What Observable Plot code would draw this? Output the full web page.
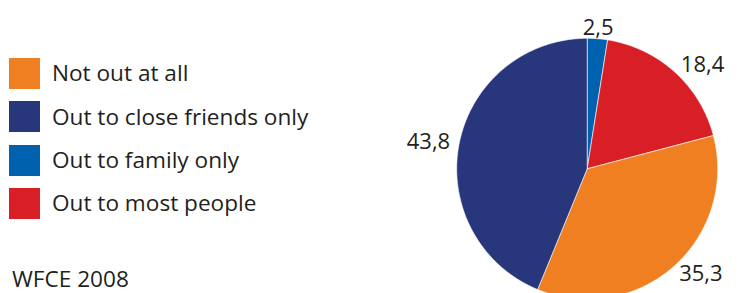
<!DOCTYPE html>
<html><head><meta charset="utf-8">
<script src="https://cdn.jsdelivr.net/npm/d3@7"></script>
<script src="https://cdn.jsdelivr.net/npm/@observablehq/plot@0.6"></script>
<style>
body{margin:0;background:#fff;}
#wrap{position:relative;width:749px;height:293px;overflow:hidden;font-family:"Open Sans",sans-serif;color:#231f20;}
#legend{position:absolute;left:9px;top:58px;}
.item{display:flex;align-items:center;height:31px;margin-bottom:12.3px;font-size:22.6px;line-height:1;}
.sw{width:31px;height:31px;margin-right:12px;flex:none;}
#src{position:absolute;left:12px;top:268px;font-size:22.6px;line-height:1;}
svg text{font-family:"Open Sans",sans-serif;}
</style></head>
<body><div id="wrap"><div id="chart"></div><div id="legend"></div><div id="src">WFCE 2008</div></div>
<script>
const legendOrder = ["Not out at all", "Out to close friends only", "Out to family only", "Out to most people"];
const sliceOrder = ["Out to family only", "Out to most people", "Not out at all", "Out to close friends only"];
const values = [2.5, 18.4, 35.3, 43.8];
const labels = ["2,5", "18,4", "35,3", "43,8"];
const colors = {"Not out at all":"#f07f22","Out to close friends only":"#28377c","Out to family only":"#0061af","Out to most people":"#d91f26"};

const slices = sliceOrder.map((c,i)=>({cat:c, value:values[i], label:labels[i]}));
const arcs = d3.pie().sort(null).value(d=>d.value)(slices);
const poly = [];
arcs.forEach(a=>{
  poly.push({cat:a.data.cat, x:0, y:0});
  const n = Math.max(4, Math.ceil((a.endAngle-a.startAngle)/0.01));
  for(let k=0;k<=n;k++){
    const t = a.startAngle + (a.endAngle-a.startAngle)*k/n;
    poly.push({cat:a.data.cat, x:Math.sin(t), y:Math.cos(t)});
  }
  poly.push({cat:a.data.cat, x:0, y:0});
});
const lab = arcs.map(a=>{
  const m=(a.startAngle+a.endAngle)/2;
  const r = 1.07;
  return {label:a.data.label, x:r*Math.sin(m), y:r*Math.cos(m), anchor: Math.sin(m)>0.3?"start":(Math.sin(m)<-0.3?"end":"middle")};
});

const cx=586.7, cy=168.3, R=130.5;
const chart = Plot.plot({
  width:749, height:293, margin:0,
  x:{domain:[-1,1], range:[cx-R, cx+R], axis:null},
  y:{domain:[-1,1], range:[cy+R, cy-R], axis:null},
  color:{domain:legendOrder, range:legendOrder.map(c=>colors[c])},
  marks:[
    Plot.line(poly,{x:"x",y:"y",z:"cat",fill:"cat",stroke:"#fff",strokeWidth:0.6,curve:"linear"}),
    ...["start","middle","end"].map(an=>Plot.text(lab.filter(d=>d.anchor===an),{x:"x",y:"y",text:"label",textAnchor:an,fontSize:22,fill:"#231f20",dy: an==="middle"?-2:0}))
  ]
});
document.getElementById("chart").appendChild(chart);
const lg=document.getElementById("legend");
legendOrder.forEach(c=>{
  const it=document.createElement("div");it.className="item";
  it.innerHTML=`<div class="sw" style="background:${colors[c]}"></div><span>${c}</span>`;
  lg.appendChild(it);
});
</script></body></html>
